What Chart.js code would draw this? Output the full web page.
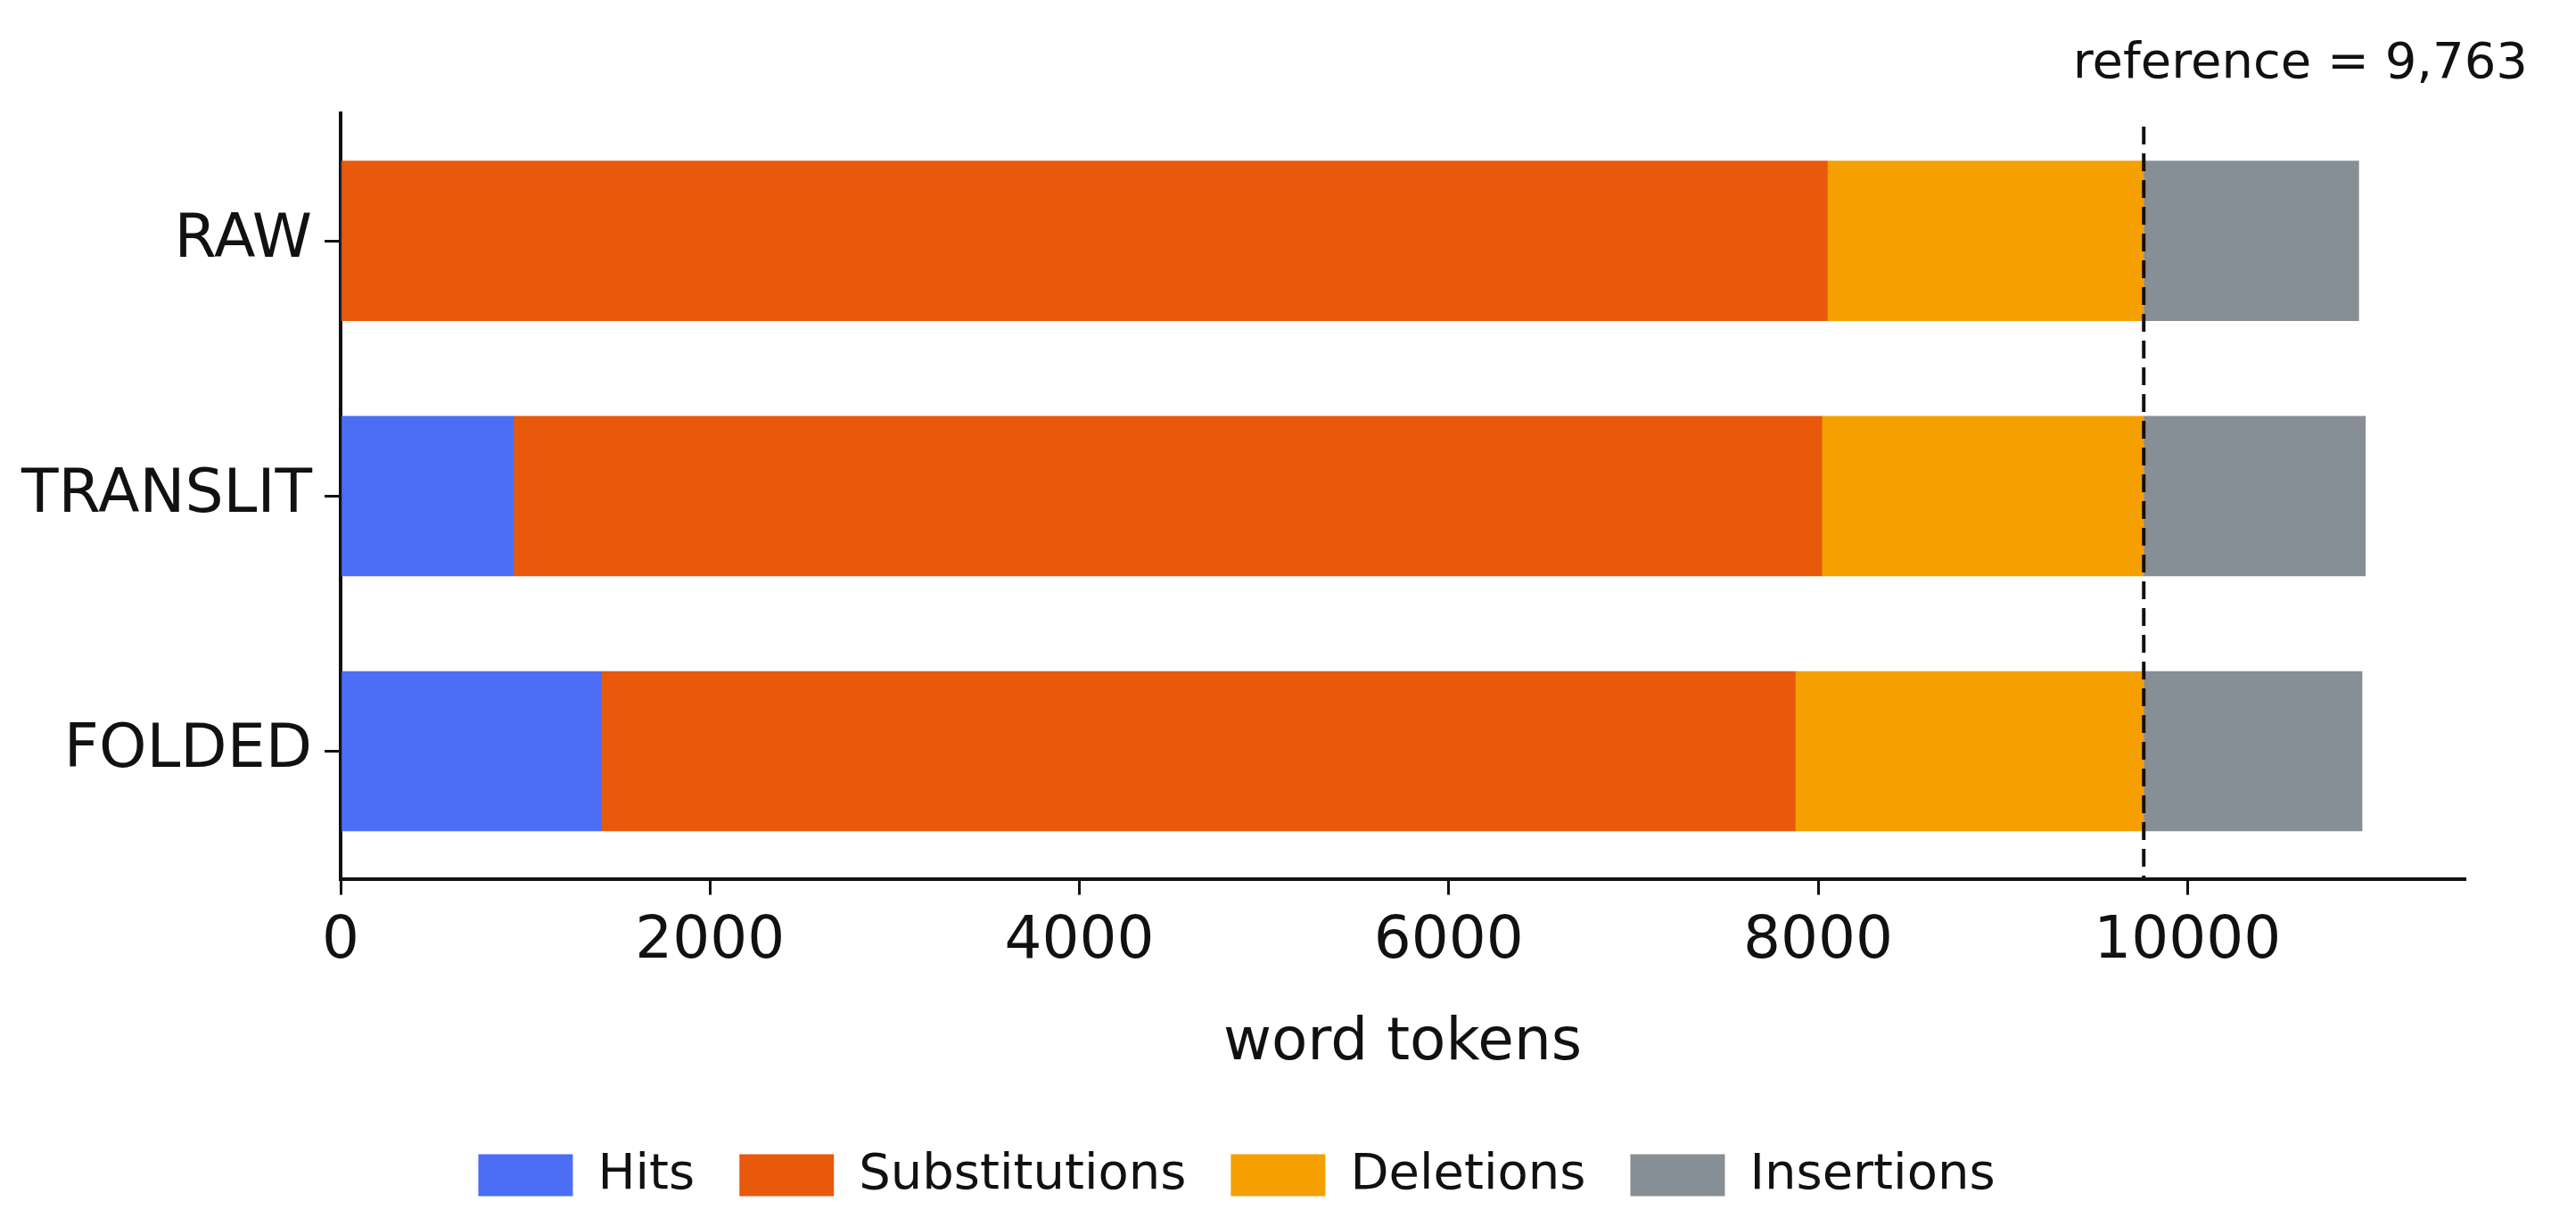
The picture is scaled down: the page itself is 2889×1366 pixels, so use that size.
<!DOCTYPE html>
<html><head><meta charset="utf-8">
<script src="https://cdn.jsdelivr.net/npm/chart.js@4/dist/chart.umd.min.js"></script>
<style>html,body{margin:0;padding:0;background:#fff}#w{width:2889px;height:1366px}</style>
</head><body><div id="w"><canvas id="c"></canvas></div>
<script>
const categories = ["RAW", "TRANSLIT", "FOLDED"];
const hits = [0, 936, 1413];
const substitutions = [8050, 7084, 6463];
const deletions = [1713, 1743, 1887];
const insertions = [1164, 1200, 1182];
const referenceValue = 9763;
const xTicks = [0, 2000, 4000, 6000, 8000, 10000];

const F = "'DejaVu Sans', sans-serif";
function ds(label, vals, color) {
  return { label, data: vals, backgroundColor: color, borderWidth: 0, barThickness: 179 };
}
const refPlugin = {
  id: 'ref',
  afterDatasetsDraw(chart) {
    const { ctx, scales: { x, y } } = chart;
    const px = x.getPixelForValue(referenceValue);
    ctx.save();
    ctx.strokeStyle = '#111'; ctx.lineWidth = 4; ctx.setLineDash([20, 10]);
    ctx.beginPath(); ctx.moveTo(px, y.top + 15); ctx.lineTo(px, y.bottom); ctx.stroke();
    ctx.restore();
    ctx.save();
    ctx.fillStyle = '#111'; ctx.font = "56px " + F; ctx.textAlign = 'right'; ctx.textBaseline = 'middle';
    ctx.fillText('reference = ' + referenceValue.toLocaleString('en-US'), 2835, 72);
    ctx.restore();
  }
};
new Chart(document.getElementById('c'), {
  type: 'bar',
  data: { labels: categories, datasets: [
    ds('Hits', hits, '#4b6ef5'),
    ds('Substitutions', substitutions, '#e8590c'),
    ds('Deletions', deletions, '#f59f00'),
    ds('Insertions', insertions, '#868e96')
  ] },
  options: {
    indexAxis: 'y', responsive: true, maintainAspectRatio: false, animation: false,
    layout: { padding: { top: 127, right: 125, left: 10, bottom: 10 } },
    plugins: {
      tooltip: { enabled: false },
      legend: { position: 'bottom', labels: { font: { family: F, size: 56 }, color: '#111', boxWidth: 106, boxHeight: 47, padding: 50 } }
    },
    scales: {
      x: { type: 'linear', stacked: true, min: 0, max: 11500,
        afterBuildTicks(s) { s.ticks = xTicks.map(v => ({ value: v })); },
        ticks: { font: { family: F, size: 66 }, color: '#111', padding: 14, callback: v => String(v) },
        grid: { display: true, drawOnChartArea: false, tickLength: 18, color: '#111', lineWidth: 3 },
        border: { display: true, color: '#111', width: 4 },
        title: { display: true, text: 'word tokens', font: { family: F, size: 66 }, color: '#111', padding: { top: 20, bottom: 30 } }
      },
      y: { type: 'category', stacked: true, offset: true,
        ticks: { font: { family: F, size: 68 }, color: '#111', padding: 14 },
        grid: { display: true, drawOnChartArea: false, offset: false, tickLength: 18, color: '#111', lineWidth: 3 },
        border: { display: true, color: '#111', width: 4 }
      }
    }
  },
  plugins: [refPlugin]
});
</script></body></html>
